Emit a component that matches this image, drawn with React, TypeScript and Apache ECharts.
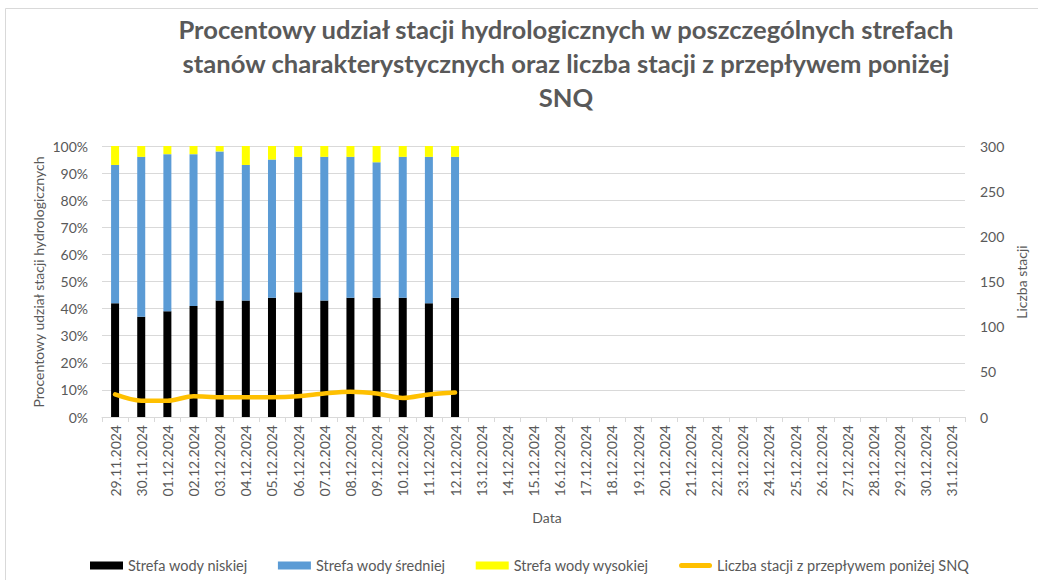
import React, { useEffect, useRef } from "react";
import * as echarts from "echarts";

const dates = [
  "29.11.2024", "30.11.2024", "01.12.2024", "02.12.2024", "03.12.2024", "04.12.2024",
  "05.12.2024", "06.12.2024", "07.12.2024", "08.12.2024", "09.12.2024", "10.12.2024",
  "11.12.2024", "12.12.2024", "13.12.2024", "14.12.2024", "15.12.2024", "16.12.2024",
  "17.12.2024", "18.12.2024", "19.12.2024", "20.12.2024", "21.12.2024", "22.12.2024",
  "23.12.2024", "24.12.2024", "25.12.2024", "26.12.2024", "27.12.2024", "28.12.2024",
  "29.12.2024", "30.12.2024", "31.12.2024",
];

const niska = [42, 37, 39, 41, 43, 43, 44, 46, 43, 44, 44, 44, 42, 44];
const srednia = [51, 59, 58, 56, 55, 50, 51, 50, 53, 52, 50, 52, 54, 52];
const wysoka = [7, 4, 3, 3, 2, 7, 5, 4, 4, 4, 6, 4, 4, 4];
const ponizejSNQ = [25, 18, 18, 23, 22, 22, 22, 23, 26, 28, 26, 21, 25, 27];

const leftTicks = [0, 100, 10];
const rightTicks = [0, 300, 50];

const FONT = "Lato";
const GREY = "#595959";
const GRID = "#d9d9d9";

const names = [
  "Strefa wody niskiej",
  "Strefa wody średniej",
  "Strefa wody wysokiej",
  "Liczba stacji z przepływem poniżej SNQ",
];

export default function App() {
  const ref = useRef<HTMLDivElement>(null);
  useEffect(() => {
    if (!ref.current) return;
    const chart = echarts.init(ref.current, undefined, { renderer: "svg" });
    const pad = (arr: number[]) => dates.map((_, i) => (i < arr.length ? arr[i] : null));
    chart.setOption({
      animation: false,
      backgroundColor: "#ffffff",
      textStyle: { fontFamily: FONT },
      grid: { left: 102, right: 73, top: 146, bottom: 163, containLabel: false },
      graphic: [
        {
          type: "rect",
          shape: { x: 5.5, y: 8.5, width: 1200, height: 800 },
          style: { fill: "none", stroke: GRID, lineWidth: 1 },
          silent: true,
        },
        {
          type: "text",
          x: 566,
          y: 12,
          style: {
            text:
              "Procentowy udział stacji hydrologicznych w poszczególnych strefach\nstanów charakterystycznych oraz liczba stacji z przepływem poniżej\nSNQ",
            font: `bold 25.6px ${FONT}`,
            fill: GREY,
            align: "center",
            verticalAlign: "top",
            lineHeight: 34,
          },
        },
        {
          type: "text",
          x: 38,
          y: 282,
          rotation: Math.PI / 2,
          style: {
            text: "Procentowy udział stacji hydrologicznych",
            font: `14px ${FONT}`,
            fill: GREY,
            align: "center",
            verticalAlign: "middle",
          },
        },
        {
          type: "text",
          x: 1021,
          y: 282,
          rotation: Math.PI / 2,
          style: {
            text: "Liczba stacji",
            font: `14px ${FONT}`,
            fill: GREY,
            align: "center",
            verticalAlign: "middle",
          },
        },
        {
          type: "text",
          x: 547,
          y: 517,
          style: {
            text: "Data",
            font: `14px ${FONT}`,
            fill: GREY,
            align: "center",
            verticalAlign: "middle",
          },
        },
      ],
      legend: {
        left: 85,
        top: 553,
        itemWidth: 33,
        itemHeight: 8,
        itemGap: 30,
        textStyle: { color: GREY, fontSize: 14.5, fontFamily: FONT },
        data: [
          { name: names[0], icon: "rect" },
          { name: names[1], icon: "rect" },
          { name: names[2], icon: "rect" },
          {
            name: names[3],
            icon: "path://M2.5,0 L30.5,0 A2.5,2.5 0 0 1 30.5,5 L2.5,5 A2.5,2.5 0 0 1 2.5,0 Z",
            itemStyle: { color: "#ffc000" },
          },
        ],
      },
      xAxis: {
        type: "category",
        data: dates,
        axisLine: { lineStyle: { color: GRID } },
        axisTick: { show: true, alignWithLabel: false, length: 5, lineStyle: { color: GRID } },
        axisLabel: { rotate: 90, color: GREY, fontSize: 14, fontFamily: FONT, margin: 8, interval: 0 },
      },
      yAxis: [
        {
          type: "value",
          min: leftTicks[0],
          max: leftTicks[1],
          interval: leftTicks[2],
          axisLine: { show: false },
          axisTick: { show: false },
          splitLine: { lineStyle: { color: GRID } },
          axisLabel: { formatter: "{value}%", color: GREY, fontSize: 14, fontFamily: FONT, margin: 14 },
        },
        {
          type: "value",
          min: rightTicks[0],
          max: rightTicks[1],
          interval: rightTicks[2],
          axisLine: { show: false },
          axisTick: { show: false },
          splitLine: { show: false },
          axisLabel: { color: GREY, fontSize: 14, fontFamily: FONT, margin: 15 },
        },
      ],
      series: [
        { name: names[0], type: "bar", stack: "s", barWidth: 8, data: pad(niska), itemStyle: { color: "#000000" } },
        { name: names[1], type: "bar", stack: "s", barWidth: 8, data: pad(srednia), itemStyle: { color: "#5b9bd5" } },
        { name: names[2], type: "bar", stack: "s", barWidth: 8, data: pad(wysoka), itemStyle: { color: "#ffff00" } },
        {
          name: names[3],
          type: "line",
          yAxisIndex: 1,
          smooth: 0.3,
          symbol: "none",
          data: pad(ponizejSNQ),
          lineStyle: { color: "#ffc000", width: 4.5, cap: "round" },
          itemStyle: { color: "#ffc000" },
        },
      ],
    });
    return () => chart.dispose();
  }, []);
  return (
    <div
      ref={ref}
      style={{ position: "fixed", left: 0, top: 0, width: 1038, height: 580 }}
    />
  );
}
